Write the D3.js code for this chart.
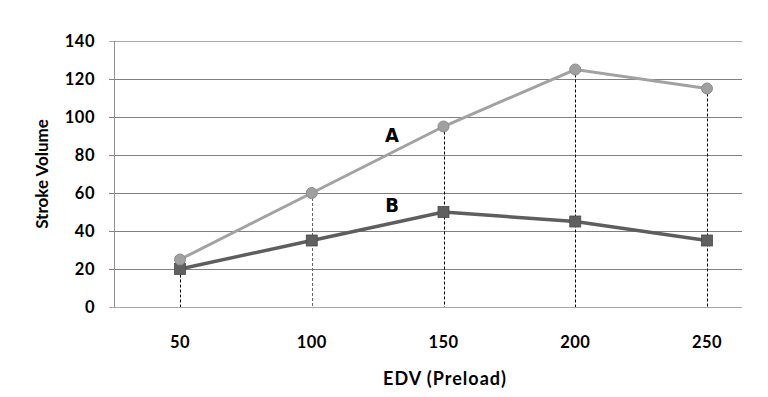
<!DOCTYPE html>
<html>
<head>
<meta charset="utf-8">
<script src="https://cdn.jsdelivr.net/npm/d3@7"></script>
<style>
  body { margin: 0; background: #fff; }
  svg text { font-family: Lato, "Open Sans", sans-serif; font-weight: bold; fill: #000; }
</style>
</head>
<body>
<div id="chart"></div>
<script>
// data
var edv = [50, 100, 150, 200, 250]
var seriesA = [25, 60, 95, 125, 115]
var seriesB = [20, 35, 50, 45, 35]
var yTicks = [0, 20, 40, 60, 80, 100, 120, 140]
var seriesLabels = ['A', 'B']

var width = 768, height = 397
var plot = { left: 114, right: 742, top: 41, bottom: 307 }

var svg = d3.select('#chart').append('svg')
  .attr('width', width)
  .attr('height', height)

var x = d3.scalePoint()
  .domain(edv)
  .range([180, 707])

var y = d3.scaleLinear()
  .domain([0, 140])
  .range([plot.bottom, plot.top])

// gridlines
svg.append('g')
  .selectAll('line')
  .data(yTicks)
  .enter().append('line')
  .attr('x1', plot.left - 5)
  .attr('x2', plot.right)
  .attr('y1', function(d) { return Math.round(y(d)) + 0.5 })
  .attr('y2', function(d) { return Math.round(y(d)) + 0.5 })
  .attr('stroke', function(d) { return (d === 0 || d === 140) ? '#a8a8a8' : '#808080' })
  .attr('stroke-width', 1)

// y axis line
svg.append('line')
  .attr('x1', plot.left + 0.5).attr('x2', plot.left + 0.5)
  .attr('y1', plot.top).attr('y2', plot.bottom)
  .attr('stroke', '#909090')

// y tick labels
svg.append('g')
  .selectAll('text')
  .data(yTicks)
  .enter().append('text')
  .attr('x', 95)
  .attr('y', function(d) { return y(d) })
  .attr('dy', '0.36em')
  .attr('text-anchor', 'end')
  .style('font-size', '16.5px')
  .style('letter-spacing', '0.5px')
  .text(function(d) { return d })

// x tick labels
svg.append('g')
  .selectAll('text')
  .data(edv)
  .enter().append('text')
  .attr('x', function(d) { return x(d) })
  .attr('y', 348)
  .attr('text-anchor', 'middle')
  .style('font-size', '16.5px')
  .style('letter-spacing', '0.5px')
  .text(function(d) { return d })

// axis titles
svg.append('text')
  .attr('transform', 'translate(48,' + ((plot.top + plot.bottom) / 2) + ') rotate(-90)')
  .attr('text-anchor', 'middle')
  .style('font-size', '17px')
  .text('Stroke Volume')

svg.append('text')
  .attr('x', 445)
  .attr('y', 385)
  .attr('text-anchor', 'middle')
  .style('font-size', '18px')
  .style('letter-spacing', '1px')
  .text('EDV (Preload)')

// dashed drop lines from the top point down to the axis
svg.append('g')
  .selectAll('line')
  .data(edv)
  .enter().append('line')
  .attr('x1', function(d) { return Math.round(x(d)) + 0.5 })
  .attr('x2', function(d) { return Math.round(x(d)) + 0.5 })
  .attr('y1', function(d, i) { return y(Math.max(seriesA[i], seriesB[i])) })
  .attr('y2', plot.bottom)
  .attr('stroke', function(d, i) { return i === 1 ? '#666' : '#000' })
  .attr('stroke-width', 1)
  .attr('stroke-dasharray', '3,2')

var line = d3.line()
  .x(function(d) { return x(d.x) })
  .y(function(d) { return y(d.y) })

function pts(vals) {
  return vals.map(function(v, i) { return { x: edv[i], y: v } })
}

// series B (dark, squares)
svg.append('path')
  .datum(pts(seriesB))
  .attr('d', line)
  .attr('fill', 'none')
  .attr('stroke', '#5e5e5e')
  .attr('stroke-width', 3.5)

svg.append('g')
  .selectAll('rect')
  .data(pts(seriesB))
  .enter().append('rect')
  .attr('x', function(d) { return x(d.x) - 5.5 })
  .attr('y', function(d) { return y(d.y) - 5.5 })
  .attr('width', 11)
  .attr('height', 11)
  .attr('fill', '#606060')
  .attr('stroke', '#4a4a4a')
  .attr('stroke-width', 0.8)

// series A (light, circles)
svg.append('path')
  .datum(pts(seriesA))
  .attr('d', line)
  .attr('fill', 'none')
  .attr('stroke', '#a2a2a2')
  .attr('stroke-width', 3)

svg.append('g')
  .selectAll('circle')
  .data(pts(seriesA))
  .enter().append('circle')
  .attr('cx', function(d) { return x(d.x) })
  .attr('cy', function(d) { return y(d.y) })
  .attr('r', 5.5)
  .attr('fill', '#a0a0a0')
  .attr('stroke', '#8c8c8c')
  .attr('stroke-width', 1)

// series labels
svg.append('g')
  .selectAll('text')
  .data(seriesLabels)
  .enter().append('text')
  .attr('x', 392)
  .attr('y', function(d, i) { return i === 0 ? 142 : 212 })
  .attr('text-anchor', 'middle')
  .style('font-family', '"DejaVu Sans Condensed", "DejaVu Sans", sans-serif')
  .style('font-size', '20px')
  .style('font-weight', 'bold')
  .text(function(d) { return d })
</script>
</body>
</html>
